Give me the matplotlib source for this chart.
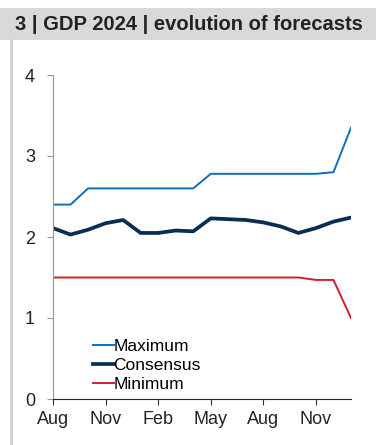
import matplotlib.pyplot as plt
from matplotlib.patches import Rectangle
from matplotlib.lines import Line2D

plt.rcParams['font.family'] = ['Liberation Sans', 'DejaVu Sans']

# monthly survey rounds, Aug 2022 .. Jan 2024
months = ['Aug', 'Sep', 'Oct', 'Nov', 'Dec', 'Jan', 'Feb', 'Mar', 'Apr',
          'May', 'Jun', 'Jul', 'Aug', 'Sep', 'Oct', 'Nov', 'Dec', 'Jan']
maximum = [2.4, 2.4, 2.6, 2.6, 2.6, 2.6, 2.6, 2.6, 2.6,
           2.78, 2.78, 2.78, 2.78, 2.78, 2.78, 2.78, 2.8, 3.35]
consensus = [2.11, 2.03, 2.09, 2.17, 2.21, 2.05, 2.05, 2.08, 2.07,
             2.23, 2.22, 2.21, 2.18, 2.13, 2.05, 2.11, 2.19, 2.24]
minimum = [1.5, 1.5, 1.5, 1.5, 1.5, 1.5, 1.5, 1.5, 1.5,
           1.5, 1.5, 1.5, 1.5, 1.5, 1.5, 1.47, 1.47, 1.0]
tick_idx = [0, 3, 6, 9, 12, 15]

fig = plt.figure(figsize=(3.76, 4.45), dpi=100)

# title band and left rule
fig.patches.append(Rectangle((0, 1 - 40/445), 1, 32/445, transform=fig.transFigure,
                             facecolor='#d9d9d9', edgecolor='none'))
fig.lines.append(Line2D([11/376, 11/376], [0, 1 - 40/445], transform=fig.transFigure,
                        color='#d0d0d0', lw=2))
fig.text(15/376, 1 - 24/445, '3 | GDP 2024 | evolution of forecasts', fontsize=14.5,
         fontweight='bold', color='#222222', va='center', ha='left')

ax = fig.add_axes([53/376, 1 - 399/445, 298/376, 324/445])
x = range(len(months))
ax.plot(x, maximum, color='#0a70bd', lw=1.4, label='Maximum')
ax.plot(x, consensus, color='#0b2d55', lw=2.7, label='Consensus')
ax.plot(x, minimum, color='#d0202e', lw=1.4, label='Minimum')

ax.set_xlim(0, len(months) - 1)
ax.set_ylim(0, 4)
ax.set_yticks([0, 1, 2, 3, 4])
ax.set_xticks(tick_idx)
ax.set_xticklabels([months[i] for i in tick_idx])
ax.tick_params(axis='both', labelsize=13, colors='#222222', length=4, direction='out')
ax.tick_params(axis='y', color='#999999', pad=9)
ax.tick_params(axis='x', color='#333333', pad=5)
for s in ['top', 'right']:
    ax.spines[s].set_visible(False)
ax.spines['left'].set_color('#999999')
ax.spines['bottom'].set_color('#222222')

ax.legend(loc='lower left', bbox_to_anchor=(0.11, 0.0), frameon=False, fontsize=12.5,
          handlelength=1.2, handletextpad=0.0, labelspacing=0.22, borderaxespad=0.2,
          borderpad=0.2)

fig.savefig('out.png', dpi=100)
